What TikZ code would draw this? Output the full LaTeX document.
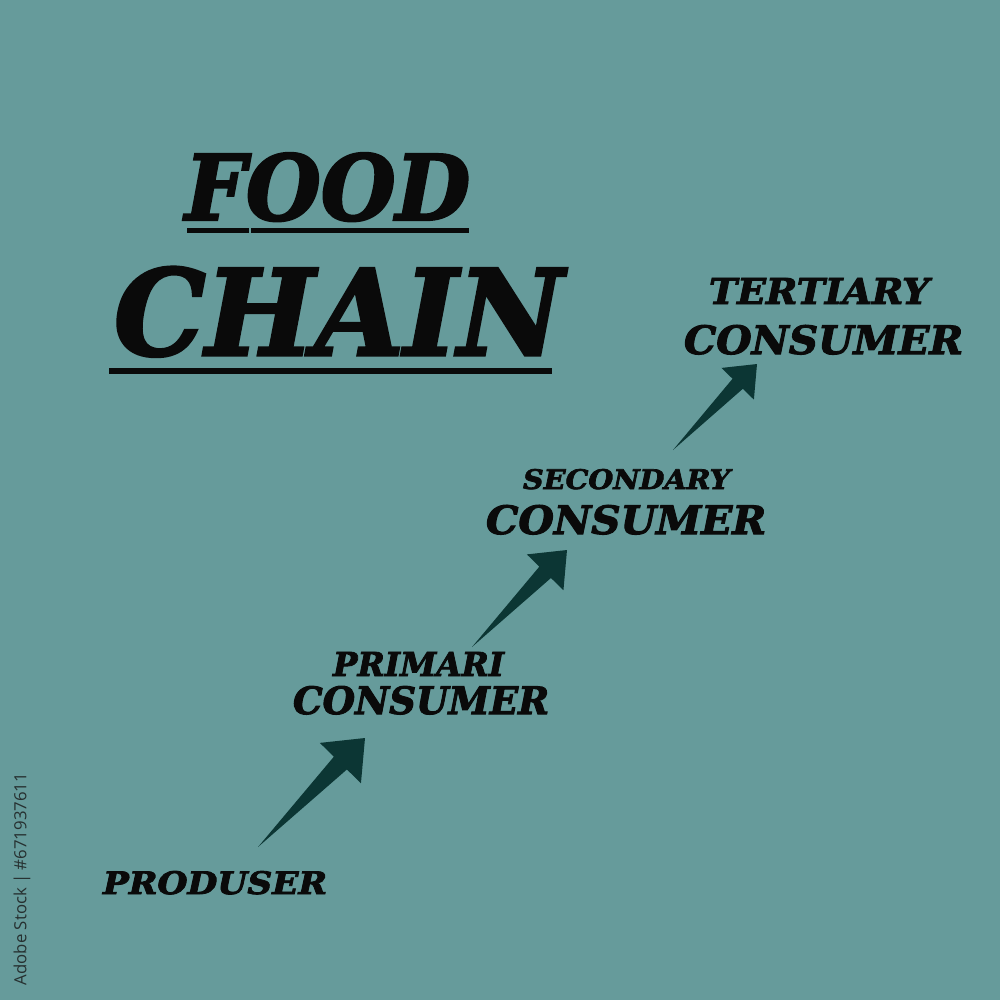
\documentclass[tikz,border=0pt]{standalone}
\usepackage{fontspec}
\usepackage{graphicx}
\usetikzlibrary{calc}
\newfontfamily\heavy{DejaVu Serif}[BoldItalicFeatures={FakeBold=2.6}]
\newfontfamily\sidefont{Open Sans}
\definecolor{bgteal}{HTML}{669B9B}
\definecolor{arrowteal}{HTML}{0C3634}
\definecolor{inkblack}{HTML}{0A0A0A}
\definecolor{sidegrey}{HTML}{263030}
\newcommand\hvfont{\heavy\bfseries\itshape}
% name, position, width, height, text
\newcommand\ftext[5]{\node[lbl] (#1) at (#2) {\resizebox{#3}{#4}{\hvfont #5}};}
\newcommand\fcarrow[2]{\fill[arrowteal] (#1)
  -- ($(#1)!0.77!(#2)!0.26!90:(#2)$)
  -- ($(#1)!0.77!(#2)!0.82!90:(#2)$)
  -- (#2)
  -- ($(#1)!0.77!(#2)!0.82!-90:(#2)$)
  -- ($(#1)!0.77!(#2)!0.26!-90:(#2)$)
  -- cycle;}
\begin{document}
\begin{tikzpicture}[x=0.01cm,y=-0.01cm,
  lbl/.style={anchor=base west,inner sep=0pt,outer sep=0pt,text=inkblack}]
\fill[bgteal] (0,0) rectangle (1000,1000);
\useasboundingbox (0,0) rectangle (1000,1000);
% title
\ftext{food}{185,220}{2.85cm}{0.67cm}{FOOD}
\ftext{chain}{114,355}{4.49cm}{0.88cm}{CHAIN}
\fill[inkblack] (187,227.5) rectangle (249,232.5);
\fill[inkblack] (251,227.5) rectangle (469,232.5);
\fill[inkblack] (109,367.5) rectangle (552,373.5);
% levels
\ftext{prod}{103,894}{2.24cm}{0.23cm}{PRODUSER}
\ftext{prim}{333,676}{1.71cm}{0.24cm}{PRIMARI}
\ftext{primc}{293,714}{2.56cm}{0.28cm}{CONSUMER}
\ftext{sec}{523,489}{2.07cm}{0.20cm}{SECONDARY}
\ftext{secc}{486,534}{2.80cm}{0.29cm}{CONSUMER}
\ftext{ter}{709,304}{2.20cm}{0.26cm}{TERTIARY}
\ftext{terc}{684,354}{2.79cm}{0.29cm}{CONSUMER}
% arrows
\coordinate (a1t) at (258,847);
\coordinate (a1h) at (365,738);
\coordinate (a2t) at (472,647);
\coordinate (a2h) at (567,550);
\coordinate (a3t) at (673,450);
\coordinate (a3h) at (757,364);
\fcarrow{a1t}{a1h}
\fcarrow{a2t}{a2h}
\fcarrow{a3t}{a3h}
% side text
\node[rotate=90,inner sep=0pt,text=sidegrey] (side) at (22,879)
  {\resizebox{2.12cm}{!}{\sidefont Adobe Stock | \#671937611}};
\end{tikzpicture}
\end{document}
